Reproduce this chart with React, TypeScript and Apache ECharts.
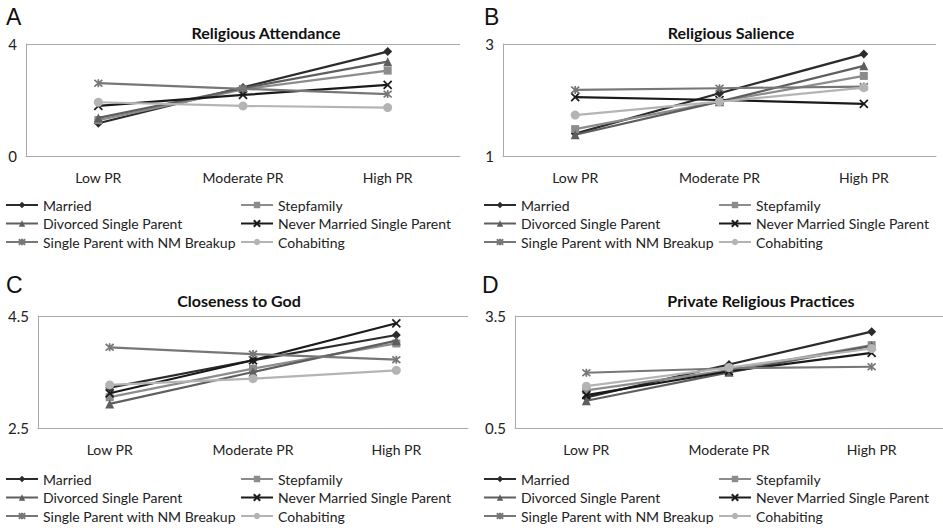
import React, { useEffect, useRef } from 'react';
import * as echarts from 'echarts';

const categories = ['Low PR', 'Moderate PR', 'High PR'];
const seriesNames = [
  'Married',
  'Stepfamily',
  'Divorced Single Parent',
  'Never Married Single Parent',
  'Single Parent with NM Breakup',
  'Cohabiting',
];

// values per panel, rows in seriesNames order, columns in categories order
const attendanceValues = [
  [1.17, 2.45, 3.73],
  [1.28, 2.38, 3.05],
  [1.36, 2.42, 3.37],
  [1.79, 2.18, 2.54],
  [2.60, 2.40, 2.21],
  [1.92, 1.79, 1.73],
];
const salienceValues = [
  [1.40, 2.12, 2.82],
  [1.48, 1.97, 2.43],
  [1.38, 1.97, 2.61],
  [2.05, 2.00, 1.93],
  [2.18, 2.21, 2.24],
  [1.73, 1.97, 2.22],
];
const closenessValues = [
  [3.22, 3.71, 4.16],
  [3.05, 3.56, 4.01],
  [2.93, 3.50, 4.06],
  [3.12, 3.71, 4.37],
  [3.94, 3.82, 3.72],
  [3.27, 3.38, 3.53],
];
const practicesValues = [
  [1.32, 2.20, 3.08],
  [1.51, 2.05, 2.72],
  [1.23, 1.99, 2.70],
  [1.38, 2.02, 2.51],
  [1.98, 2.10, 2.14],
  [1.62, 2.12, 2.63],
];

const attendanceTicks = [0, 4];
const salienceTicks = [1, 3];
const closenessTicks = [2.5, 4.5];
const practicesTicks = [0.5, 3.5];

const panelTitles = ['Religious Attendance', 'Religious Salience', 'Closeness to God', 'Private Religious Practices'];
const panelLetters = ['A', 'B', 'C', 'D'];

const seriesColors = ['#2b2b2b', '#8c8c8c', '#5e5e5e', '#1a1a1a', '#777777', '#b4b4b4'];
const seriesSymbols = [
  'diamond',
  'rect',
  'triangle',
  'path://M0,0L10,10M10,0L0,10',
  'path://M0,0L10,10M10,0L0,10M5,-1L5,11',
  'circle',
];
const seriesSymbolSizes = [9, 8, 9, 8, 8, 9];

const FONT = 'Lato, "Open Sans", sans-serif';

const layout = [
  { gridLeft: 26, gridTop: 44, gridW: 434, gridH: 112, titleX: 266, titleY: 32, letterX: 6, letterY: 5, legTop: 196, legL1: 5, legL2: 240 },
  { gridLeft: 503, gridTop: 44, gridW: 433, gridH: 112, titleX: 731, titleY: 32, letterX: 484, letterY: 5, legTop: 196, legL1: 483, legL2: 718 },
  { gridLeft: 38, gridTop: 316, gridW: 430, gridH: 112, titleX: 239, titleY: 300, letterX: 6, letterY: 273, legTop: 470, legL1: 5, legL2: 240 },
  { gridLeft: 515, gridTop: 316, gridW: 430, gridH: 112, titleX: 761, titleY: 300, letterX: 482, letterY: 273, legTop: 470, legL1: 483, legL2: 718 },
];

export default function App() {
  const ref = useRef<HTMLDivElement>(null);
  useEffect(() => {
    if (!ref.current) return;
    const chart = echarts.init(ref.current, undefined, { renderer: 'svg' });
    const panelValues = [attendanceValues, salienceValues, closenessValues, practicesValues];
    const panelTicks = [attendanceTicks, salienceTicks, closenessTicks, practicesTicks];

    const grid: any[] = [];
    const xAxis: any[] = [];
    const yAxis: any[] = [];
    const series: any[] = [];
    const legend: any[] = [];
    const graphic: any[] = [];

    layout.forEach((L, p) => {
      const ticks = panelTicks[p];
      grid.push({ left: L.gridLeft, top: L.gridTop, width: L.gridW, height: L.gridH, containLabel: false });
      xAxis.push({
        type: 'category',
        gridIndex: p,
        data: categories,
        boundaryGap: true,
        axisLine: { show: true, lineStyle: { color: '#a8a8a8', width: 1 } },
        axisTick: { show: false },
        axisLabel: { fontSize: 14, color: '#222', margin: 14, fontFamily: FONT },
        splitLine: { show: false },
      });
      yAxis.push({
        type: 'value',
        gridIndex: p,
        min: ticks[0],
        max: ticks[1],
        axisLine: { show: true, lineStyle: { color: '#a8a8a8', width: 1 } },
        axisTick: { show: false },
        splitLine: { show: false },
        axisLabel: { customValues: ticks, fontSize: 15, color: '#222', margin: 9, fontFamily: FONT },
      });
      seriesNames.forEach((name, s) => {
        const isStroke = s === 3 || s === 4;
        series.push({
          type: 'line',
          name,
          xAxisIndex: p,
          yAxisIndex: p,
          data: panelValues[p][s],
          symbol: seriesSymbols[s],
          symbolSize: seriesSymbolSizes[s],
          showSymbol: true,
          lineStyle: { color: seriesColors[s], width: 2.2 },
          itemStyle: {
            color: seriesColors[s],
            borderColor: seriesColors[s],
            borderWidth: isStroke ? 1.7 : 0,
          },
          emphasis: { disabled: true },
          markLine: s === 0 ? {
            silent: true,
            symbol: 'none',
            label: { show: false },
            lineStyle: { color: '#a8a8a8', width: 1, type: 'solid' },
            emphasis: { disabled: true },
            data: [{ yAxis: ticks[1] }],
          } : undefined,
          z: 2 + s,
        });
      });
      const legCommon = {
        orient: 'vertical',
        top: L.legTop,
        itemWidth: 32,
        itemHeight: 8,
        itemGap: 0.5,
        padding: 0,
        textStyle: { fontSize: 14, color: '#222', fontFamily: FONT, lineHeight: 18 },
        selectedMode: false,
      };
      legend.push({ ...legCommon, left: L.legL1, data: [seriesNames[0], seriesNames[2], seriesNames[4]] });
      legend.push({ ...legCommon, left: L.legL2, data: [seriesNames[1], seriesNames[3], seriesNames[5]] });
      graphic.push({
        type: 'text',
        x: L.letterX,
        y: L.letterY,
        style: { text: panelLetters[p], fontSize: 23, fontFamily: 'Liberation Sans, Arial, sans-serif', fill: '#111', textVerticalAlign: 'top' },
      });
      graphic.push({
        type: 'text',
        x: L.titleX,
        y: L.titleY,
        style: { text: panelTitles[p], fontSize: 16, fontWeight: 'bold', fontFamily: FONT, fill: '#111', textAlign: 'center', textVerticalAlign: 'middle' },
      });
    });

    chart.setOption({
      animation: false,
      backgroundColor: '#ffffff',
      grid,
      xAxis,
      yAxis,
      series,
      legend,
      graphic,
    });
    return () => chart.dispose();
  }, []);
  return <div ref={ref} style={{ position: 'absolute', left: 0, top: 0, width: 943, height: 528 }} />;
}
